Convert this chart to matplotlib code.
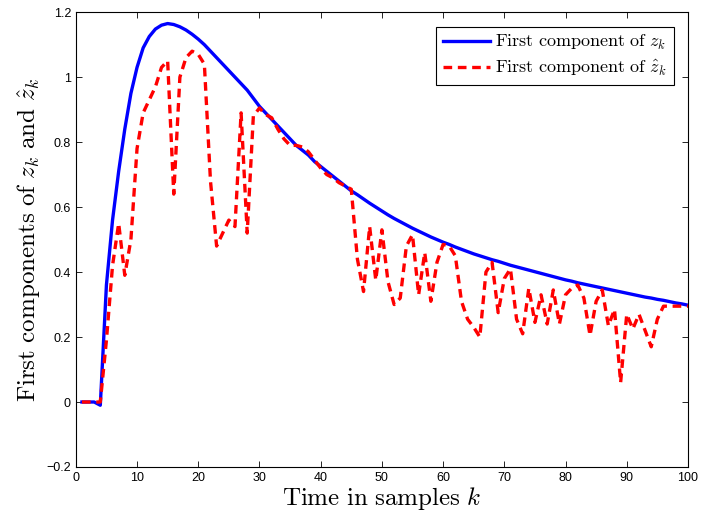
import numpy as np
import matplotlib
matplotlib.use("Agg")
from matplotlib import pyplot as plt

plt.rcParams['mathtext.fontset'] = 'cm'
plt.rcParams['font.family'] = ['Liberation Sans', 'DejaVu Sans']

# sample index k = 1..100
k = np.arange(1, 101)

z_true = [0, 0, 0, -0.01, 0.36, 0.56, 0.71, 0.84, 0.95, 1.03,
          1.09, 1.125, 1.148, 1.16, 1.165, 1.162, 1.155, 1.145, 1.132, 1.117,
          1.10, 1.08, 1.06, 1.04, 1.02, 1.00, 0.98, 0.96, 0.935, 0.91,
          0.89, 0.87, 0.85, 0.83, 0.81, 0.79, 0.775, 0.76, 0.74, 0.725,
          0.71, 0.695, 0.68, 0.665, 0.65, 0.638, 0.625, 0.612, 0.60, 0.588,
          0.576, 0.565, 0.555, 0.545, 0.535, 0.526, 0.517, 0.508, 0.50, 0.492,
          0.485, 0.477, 0.47, 0.463, 0.456, 0.45, 0.444, 0.438, 0.433, 0.427,
          0.421, 0.416, 0.411, 0.406, 0.401, 0.396, 0.391, 0.386, 0.381, 0.376,
          0.372, 0.367, 0.363, 0.359, 0.355, 0.351, 0.347, 0.343, 0.339, 0.335,
          0.331, 0.327, 0.323, 0.32, 0.316, 0.313, 0.309, 0.305, 0.302, 0.298]

z_est = [0, 0, 0, 0, 0.19, 0.42, 0.55, 0.39, 0.50, 0.78,
         0.89, 0.93, 0.97, 1.03, 1.05, 0.64, 1.00, 1.06, 1.08, 1.07,
         1.04, 0.68, 0.48, 0.52, 0.56, 0.54, 0.89, 0.52, 0.88, 0.905,
         0.885, 0.875, 0.84, 0.81, 0.79, 0.79, 0.785, 0.77, 0.745, 0.72,
         0.70, 0.69, 0.675, 0.665, 0.655, 0.44, 0.34, 0.54, 0.375, 0.53,
         0.37, 0.30, 0.32, 0.48, 0.515, 0.33, 0.46, 0.31, 0.43, 0.485,
         0.48, 0.45, 0.31, 0.255, 0.23, 0.20, 0.40, 0.43, 0.275, 0.38,
         0.41, 0.255, 0.21, 0.35, 0.245, 0.33, 0.24, 0.345, 0.24, 0.33,
         0.35, 0.36, 0.32, 0.205, 0.31, 0.345, 0.235, 0.285, 0.06, 0.27,
         0.225, 0.27, 0.22, 0.17, 0.255, 0.295, 0.295, 0.295, 0.295, 0.295]

fig = plt.figure(figsize=(7.02, 5.18), dpi=100)
ax = fig.add_axes([0.108, 0.0985, 0.872, 0.878])

ax.plot(k, z_true, color='#0000ff', lw=2.4, label=r'$\mathrm{First\ component\ of}\ z_k$')
ax.plot(k, z_est, color='#ff0000', lw=2.4, dashes=(2.6, 1.7),
        label=r'$\mathrm{First\ component\ of}\ \hat{z}_k$')

ax.set_xlim(0, 100)
ax.set_ylim(-0.2, 1.2)
ax.set_xticks(np.arange(0, 101, 10))
ax.set_yticks(np.arange(-0.2, 1.21, 0.2))
ax.set_yticklabels(['\u22120.2', '0', '0.2', '0.4', '0.6', '0.8', '1', '1.2'])
ax.tick_params(direction='in', top=True, right=True, length=4.5, width=0.6, labelsize=9)
for s in ax.spines.values():
    s.set_linewidth(0.8)

ax.set_xlabel(r'$\mathrm{Time\ in\ samples}\ k$', fontsize=18, labelpad=1)
ax.set_ylabel(r'$\mathrm{First\ components\ of}\ z_k\ \mathrm{and}\ \hat{z}_k$', fontsize=18, labelpad=3)

leg = ax.legend(loc='upper right', fontsize=13, fancybox=False, edgecolor='black',
                framealpha=1, handlelength=2.6, borderaxespad=0.8, labelspacing=0.35,
                handletextpad=0.3, borderpad=0.35)
leg.get_frame().set_linewidth(0.8)

fig.savefig('out.png', dpi=100)
